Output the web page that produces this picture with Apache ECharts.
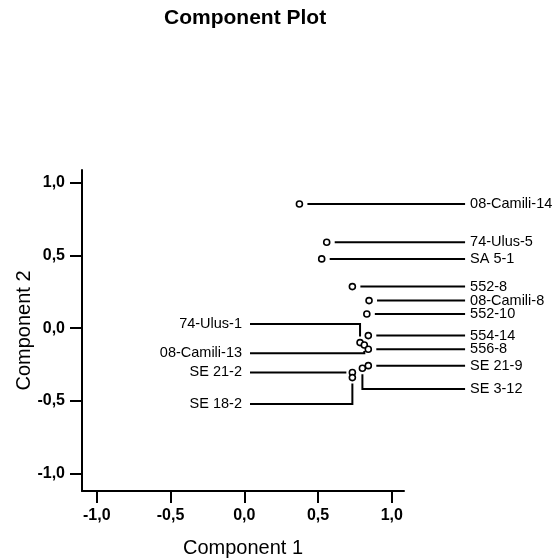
<!DOCTYPE html>
<html>
<head>
<meta charset="utf-8">
<script src="https://cdn.jsdelivr.net/npm/echarts@6/dist/echarts.min.js"></script>
<style>
  html, body { margin: 0; padding: 0; background: #fff; }
  #chart { width: 559px; height: 560px; }
</style>
</head>
<body>
<div id="chart"></div>
<script>
// Component loadings (rotated component matrix)
const names = ['08-Camili-14', '74-Ulus-5', 'SA 5-1', '552-8', '08-Camili-8', '552-10',
  '554-14', '74-Ulus-1', '08-Camili-13', '556-8', 'SE 21-9', 'SE 3-12', 'SE 21-2', 'SE 18-2'];
const component1 = [0.374, 0.559, 0.525, 0.733, 0.846, 0.831,
  0.841, 0.785, 0.814, 0.841, 0.841, 0.801, 0.733, 0.733];
const component2 = [0.852, 0.589, 0.475, 0.285, 0.189, 0.097,
  -0.051, -0.099, -0.115, -0.145, -0.257, -0.275, -0.304, -0.339];
const tickValues = [-1, -0.5, 0, 0.5, 1];

// Label placement: which side the tag sits on, and the level of its elbow (null = straight leader)
const labelSide = ['r', 'r', 'r', 'r', 'r', 'r', 'r', 'l', 'l', 'r', 'r', 'r', 'l', 'l'];
const labelLevel = [null, null, null, null, null, null, null, 0.029, -0.172, null, null, -0.417, null, -0.520];
const LEADER_RIGHT = 1.497;
const LEADER_LEFT = 0.039;

const FONT = '"Liberation Sans", Arial, sans-serif';
const fmt = v => v.toFixed(1).replace('.', ',');

const points = names.map((n, i) => [component1[i], component2[i]]);

const chart = echarts.init(document.getElementById('chart'), null, { renderer: 'canvas' });

const axisCommon = {
  axisLine: { show: true, onZero: false, lineStyle: { color: '#000', width: 2 } },
  axisTick: { show: true, length: 12, customValues: tickValues, lineStyle: { color: '#000', width: 2 } },
  axisLabel: {
    customValues: tickValues, margin: 17, formatter: fmt,
    color: '#000', fontFamily: FONT, fontSize: 16, fontWeight: 'bold'
  },
  splitLine: { show: false },
  nameLocation: 'middle',
  nameMoveOverlap: false,
  nameTextStyle: { color: '#000', fontFamily: FONT, fontSize: 20 }
};

chart.setOption({
  animation: false,
  backgroundColor: '#fff',
  title: {
    text: 'Component Plot',
    left: 164, top: 8, padding: 0,
    textStyle: { color: '#000', fontFamily: FONT, fontSize: 21, fontWeight: 'bold' }
  },
  grid: { left: 82, right: 155, top: 170, bottom: 69, outerBoundsMode: 'none', containLabel: false },
  xAxis: Object.assign({}, axisCommon, {
    type: 'value', min: -1.1, max: 1.083, position: 'bottom',
    name: 'Component 1', nameGap: 47
  }),
  yAxis: Object.assign({}, axisCommon, {
    type: 'value', min: -1.117, max: 1.085, position: 'left',
    name: 'Component 2', nameGap: 48
  }),
  series: [
    {
      type: 'custom',
      clip: false,
      silent: true,
      data: points,
      renderItem: function (params, api) {
        const i = params.dataIndex;
        const p = api.coord([api.value(0), api.value(1)]);
        const right = labelSide[i] === 'r';
        const endX = api.coord([right ? LEADER_RIGHT : LEADER_LEFT, 0])[0];
        let pts, ty;
        if (labelLevel[i] === null) {
          const gap = right ? 8 : 6;
          pts = [[p[0] + (right ? gap : -gap), p[1]], [endX, p[1]]];
          ty = p[1];
        } else {
          ty = api.coord([0, labelLevel[i]])[1];
          const dir = ty > p[1] ? 1 : -1;
          pts = [[p[0], p[1] + dir * 6], [p[0], ty], [endX, ty]];
        }
        return {
          type: 'group',
          children: [
            {
              type: 'polyline',
              shape: { points: pts },
              style: { stroke: '#000', lineWidth: 2, fill: null }
            },
            {
              type: 'text',
              x: endX + (right ? 5 : -8),
              y: ty,
              style: {
                text: names[i],
                fill: '#000',
                font: '14.5px ' + FONT,
                align: right ? 'left' : 'right',
                verticalAlign: 'middle'
              }
            }
          ]
        };
      }
    },
    {
      type: 'scatter',
      data: points,
      symbol: 'circle',
      symbolSize: 6,
      itemStyle: { color: '#fff', borderColor: '#000', borderWidth: 1.6, opacity: 1 },
      z: 5
    }
  ]
});
</script>
</body>
</html>
